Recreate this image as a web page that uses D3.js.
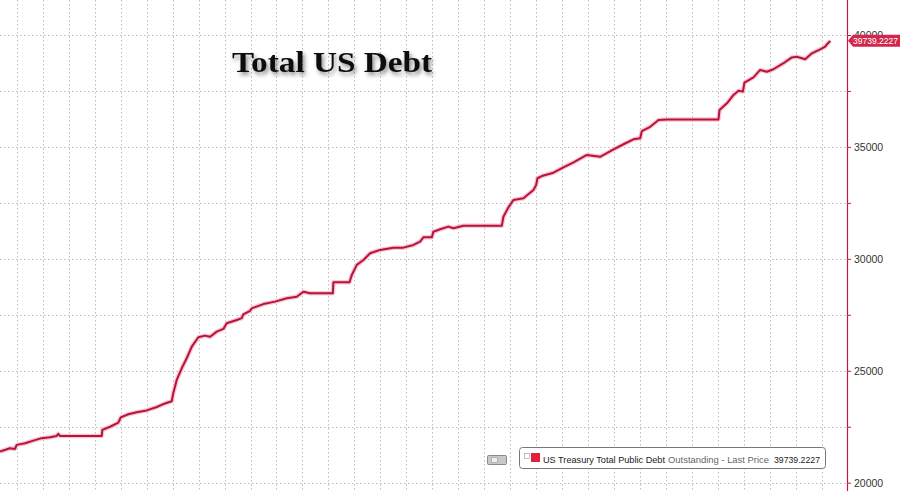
<!DOCTYPE html>
<html>
<head>
<meta charset="utf-8">
<script src="https://cdn.jsdelivr.net/npm/d3@7"></script>
<style>
html,body{margin:0;padding:0;background:#fff;}
svg{display:block;}
</style>
</head>
<body>
<svg id="chart" width="900" height="491"></svg>
<script>
// ---- data (decimal years, US$ billions) ----
const years = [2018.589,2018.685,2018.733,2018.750,2018.830,2018.910,2018.990,2019.070,2019.135,2019.150,2019.167,2019.568,2019.574,2019.648,2019.728,2019.751,2019.824,2019.905,2020.001,2020.098,2020.177,2020.242,2020.257,2020.290,2020.338,2020.386,2020.435,2020.498,2020.562,2020.611,2020.675,2020.739,2020.771,2020.868,2020.916,2020.931,2020.996,2021.012,2021.124,2021.236,2021.349,2021.445,2021.509,2021.573,2021.792,2021.798,2021.952,2021.975,2022.023,2022.087,2022.151,2022.247,2022.375,2022.472,2022.568,2022.632,2022.664,2022.745,2022.760,2022.825,2022.905,2022.953,2023.049,2023.419,2023.434,2023.482,2023.531,2023.627,2023.723,2023.749,2023.762,2023.804,2023.916,2024.012,2024.109,2024.237,2024.365,2024.494,2024.590,2024.686,2024.750,2024.767,2024.847,2024.927,2025.007,2025.504,2025.514,2025.585,2025.649,2025.697,2025.739,2025.754,2025.841,2025.905,2025.970,2026.033,2026.130,2026.210,2026.258,2026.338,2026.403,2026.483,2026.531,2026.551,2026.580];
const debt = [21390,21540,21510,21690,21760,21880,21990,22030,22090,22180,22090,22090,22360,22500,22680,22920,23060,23150,23230,23380,23540,23640,24010,24590,25110,25560,26080,26500,26570,26520,26750,26870,27120,27270,27350,27520,27680,27790,27980,28090,28240,28310,28530,28460,28460,28950,28950,29280,29730,29950,30250,30400,30500,30500,30620,30770,30960,30960,31210,31320,31440,31370,31480,31480,31880,32300,32630,32710,33080,33300,33600,33700,33850,34090,34310,34640,34560,34890,35120,35340,35390,35710,35900,36200,36230,36230,36650,36950,37320,37510,37470,37870,38110,38440,38360,38470,38740,39000,39030,38920,39180,39360,39480,39600,39739.2227];
const yTicks = [20000,22500,25000,27500,30000,32500,35000,37500,40000];
const gridQuarters = d3.range(2018.75, 2026.6, 0.25);
const lastPrice = "39739.2227";
const titleText = "Total US Debt";
const legendParts = ["US Treasury Total Public Debt", "Outstanding - Last Price", "39739.2227"];

// ---- layout ----
const svg = d3.select("#chart");
const W = 900, H = 491, axisX = 847;
const x = d3.scaleLinear().domain([2018.589, 2026.741]).range([0, axisX]);
const y = d3.scaleLinear().domain([20000, 40000]).range([482.7, 35]);
const red = "#c9183f";

// grid
const grid = svg.append("g").attr("stroke", "#bdbdbd").attr("stroke-width", 1).attr("stroke-dasharray", "1.5,2.5");
grid.selectAll("line.v").data(gridQuarters).join("line")
  .attr("x1", d => Math.round(x(d)) + 0.5).attr("x2", d => Math.round(x(d)) + 0.5)
  .attr("y1", 0).attr("y2", H);
grid.selectAll("line.h").data(yTicks).join("line")
  .attr("x1", 0).attr("x2", axisX)
  .attr("y1", d => Math.round(y(d)) + 0.5).attr("y2", d => Math.round(y(d)) + 0.5);

// title
const defs = svg.append("defs");
const f = defs.append("filter").attr("id", "shadow").attr("x", "-10%").attr("y", "-30%").attr("width", "130%").attr("height", "180%");
f.append("feDropShadow").attr("dx", 2).attr("dy", 3).attr("stdDeviation", 2).attr("flood-color", "#000").attr("flood-opacity", 0.45);
svg.append("text").attr("x", 232).attr("y", 72)
  .attr("font-family", "'Liberation Serif','Times New Roman',serif").attr("font-weight", "bold")
  .attr("font-size", 30).attr("fill", "#111").attr("filter", "url(#shadow)")
  .attr("textLength", 200).attr("lengthAdjust", "spacingAndGlyphs")
  .text(titleText);

// series
const data = years.map((t, i) => ({t, v: debt[i]}));
const line = d3.line().x(d => x(d.t)).y(d => y(d.v));
svg.append("path").datum(data).attr("d", line).attr("fill", "none")
  .attr("stroke", "#f5b3c2").attr("stroke-width", 4.5).attr("stroke-opacity", 0.75).attr("stroke-linejoin", "round");
svg.append("path").datum(data).attr("d", line).attr("fill", "none")
  .attr("stroke", "#b8133a").attr("stroke-width", 2).attr("stroke-linejoin", "round");

// right axis
const axis = d3.axisRight(y).tickValues(yTicks).tickSize(4).tickPadding(3)
  .tickFormat(d => d % 5000 === 0 ? d : "");
const ag = svg.append("g").attr("transform", `translate(${axisX},0)`).call(axis);
ag.select(".domain").remove();
ag.selectAll(".tick line").attr("stroke", red);
ag.selectAll(".tick text").attr("font-family", "'Liberation Sans',Arial,sans-serif").attr("font-size", 10.5).attr("fill", "#333");
svg.append("line").attr("x1", axisX + 0.5).attr("x2", axisX + 0.5).attr("y1", 0).attr("y2", H)
  .attr("stroke", red).attr("stroke-width", 1.2);

// last price label
const ly = y(debt[debt.length - 1]);
svg.append("path")
  .attr("d", `M${axisX + 1},${ly} L${axisX + 6},${ly - 6} L${W},${ly - 6} L${W},${ly + 6} L${axisX + 6},${ly + 6} Z`)
  .attr("fill", "#d3264c");
svg.append("text").attr("x", axisX + 6).attr("y", ly + 3.6)
  .attr("font-family", "'Liberation Sans',Arial,sans-serif").attr("font-size", 9.5).attr("fill", "#fff")
  .attr("textLength", 45).attr("lengthAdjust", "spacingAndGlyphs")
  .text(lastPrice);

// legend
svg.append("rect").attr("x", 487.5).attr("y", 455.5).attr("width", 19).attr("height", 9).attr("rx", 1)
  .attr("fill", "#c8c8c8").attr("stroke", "#8a8a8a");
svg.append("rect").attr("x", 491.5).attr("y", 457.5).attr("width", 6).attr("height", 5).attr("fill", "#eee").attr("stroke", "#999").attr("stroke-width", 0.6);
svg.append("rect").attr("x", 519.5).attr("y", 447.5).attr("width", 306).attr("height", 21).attr("rx", 3)
  .attr("fill", "#fff").attr("stroke", "#777").attr("stroke-width", 1);
svg.append("rect").attr("x", 524.5).attr("y", 453.5).attr("width", 5).attr("height", 5).attr("fill", "#fff").attr("stroke", "#999").attr("stroke-width", 0.6);
svg.append("rect").attr("x", 531).attr("y", 453).attr("width", 9).attr("height", 9).attr("fill", "#e3213f");
const legPos = [[543, 122, "#222"], [668, 101, "#666"], [774, 46, "#222"]];
legendParts.forEach((s, i) => {
  svg.append("text").attr("x", legPos[i][0]).attr("y", 462.5)
    .attr("font-family", "'Liberation Sans',Arial,sans-serif").attr("font-size", 9.5)
    .attr("fill", legPos[i][2])
    .attr("textLength", legPos[i][1]).attr("lengthAdjust", "spacingAndGlyphs")
    .text(s);
});
</script>
</body>
</html>
